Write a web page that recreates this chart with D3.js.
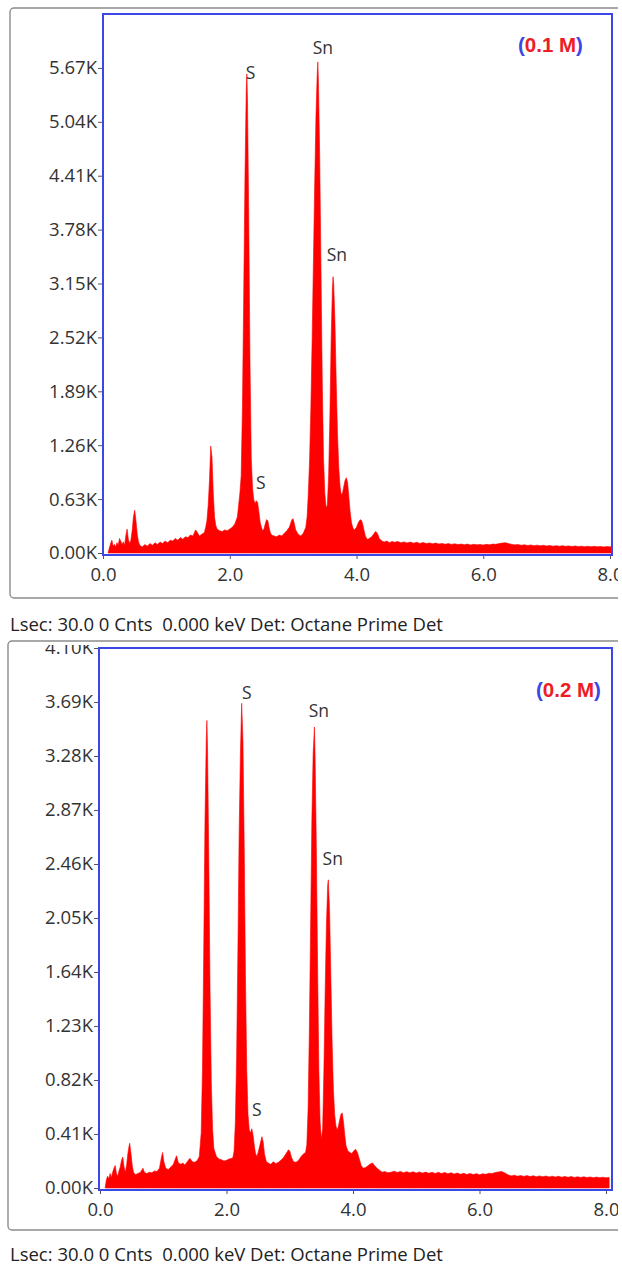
<!DOCTYPE html>
<html>
<head>
<meta charset="utf-8">
<script src="https://cdn.jsdelivr.net/npm/d3@7/dist/d3.min.js"></script>
<style>
  html, body { margin: 0; padding: 0; background: #fff; }
  svg { display: block; }
</style>
</head>
<body>
<svg id="chart" width="622" height="1264"></svg>
<script>
// EDS spectrum, 0.1 M sample: [energy keV, counts]
const spectrum01 = [
  [0.08,0],[0.10,60],[0.12,110],[0.14,150],[0.16,80],[0.18,100],[0.20,70],[0.22,120],[0.24,90],
  [0.26,170],[0.28,140],[0.30,100],[0.32,130],[0.34,90],[0.36,200],[0.38,280],[0.40,160],[0.42,110],
  [0.44,150],[0.46,260],[0.48,420],[0.50,500],[0.52,380],[0.54,220],[0.56,130],[0.58,90],[0.62,70],
  [0.66,100],[0.70,80],[0.74,110],[0.78,90],[0.82,120],[0.86,100],[0.90,130],[0.94,110],[0.98,140],
  [1.02,120],[1.06,150],[1.10,140],[1.14,170],[1.18,150],[1.22,180],[1.26,160],[1.30,190],[1.34,180],
  [1.38,210],[1.42,200],[1.46,270],[1.48,250],[1.52,200],[1.56,220],[1.60,240],[1.62,300],[1.64,380],
  [1.66,560],[1.68,850],[1.70,1250],[1.72,1120],[1.74,700],[1.76,420],[1.78,320],[1.80,280],[1.84,260],
  [1.88,250],[1.92,270],[1.96,260],[2.00,280],[2.04,300],[2.08,340],[2.12,420],[2.14,560],[2.16,700],
  [2.18,900],[2.20,1700],[2.22,3000],[2.24,4400],[2.26,5400],[2.27,5600],[2.28,5300],[2.30,3900],
  [2.32,2200],[2.34,1100],[2.36,750],[2.38,620],[2.40,580],[2.42,610],[2.44,590],[2.46,480],[2.48,360],
  [2.50,300],[2.52,260],[2.54,280],[2.56,340],[2.58,390],[2.60,380],[2.62,300],[2.64,240],[2.66,210],
  [2.70,200],[2.74,190],[2.78,210],[2.82,200],[2.86,230],[2.90,260],[2.94,300],[2.98,390],[3.00,400],
  [3.02,340],[3.04,270],[3.08,220],[3.12,200],[3.16,230],[3.20,300],[3.22,420],[3.24,700],[3.26,1100],
  [3.28,1700],[3.30,2500],[3.32,3400],[3.34,4300],[3.36,5100],[3.38,5600],[3.39,5740],[3.40,5500],
  [3.42,4600],[3.44,3300],[3.46,2000],[3.48,1100],[3.50,700],[3.52,530],[3.54,560],[3.56,900],
  [3.58,1600],[3.60,2500],[3.62,3100],[3.63,3230],[3.64,3150],[3.66,2700],[3.68,2000],[3.70,1400],
  [3.72,1000],[3.74,780],[3.76,680],[3.78,700],[3.80,780],[3.82,850],[3.84,880],[3.86,820],[3.88,650],
  [3.90,480],[3.92,360],[3.94,300],[3.96,270],[3.98,280],[4.00,300],[4.02,340],[4.04,370],[4.06,390],
  [4.08,380],[4.10,330],[4.12,260],[4.14,200],[4.16,170],[4.18,160],[4.20,170],[4.24,190],[4.28,230],
  [4.30,250],[4.32,240],[4.34,210],[4.36,170],[4.40,140],[4.44,130],[4.48,140],[4.52,120],[4.56,135],
  [4.60,125],[4.65,135],[4.70,120],[4.75,130],[4.80,118],[4.85,128],[4.90,115],[4.95,125],[5.00,112],
  [5.05,122],[5.10,110],[5.15,118],[5.20,108],[5.25,116],[5.30,105],[5.35,112],[5.40,102],[5.45,110],
  [5.50,100],[5.55,108],[5.60,98],[5.65,105],[5.70,96],[5.75,104],[5.80,94],[5.85,102],[5.90,95],
  [5.95,100],[6.00,93],[6.05,101],[6.10,96],[6.15,104],[6.20,102],[6.25,110],[6.30,116],[6.35,120],
  [6.40,110],[6.45,100],[6.50,95],[6.55,98],[6.60,90],[6.65,96],[6.70,88],[6.75,94],[6.80,86],
  [6.85,92],[6.90,84],[6.95,90],[7.00,82],[7.05,88],[7.10,80],[7.15,86],[7.20,79],[7.25,85],
  [7.30,78],[7.35,83],[7.40,76],[7.45,82],[7.50,75],[7.55,80],[7.60,74],[7.65,79],[7.70,73],
  [7.75,78],[7.80,72],[7.85,77],[7.90,71],[7.95,75],[8.00,72],[8.05,74]
];

// EDS spectrum, 0.2 M sample: [energy keV, counts]
const spectrum02 = [
  [0.08,0],[0.10,60],[0.12,90],[0.14,70],[0.16,110],[0.18,80],[0.20,120],[0.22,150],[0.24,170],
  [0.26,110],[0.28,90],[0.30,130],[0.32,160],[0.34,210],[0.36,235],[0.38,160],[0.40,120],[0.42,170],
  [0.44,260],[0.46,320],[0.47,340],[0.49,260],[0.51,170],[0.53,120],[0.56,100],[0.60,110],[0.64,120],
  [0.68,150],[0.70,120],[0.74,110],[0.78,120],[0.82,115],[0.86,130],[0.90,125],[0.94,150],[0.97,230],
  [0.99,270],[1.01,200],[1.04,150],[1.08,140],[1.12,160],[1.16,180],[1.19,220],[1.21,245],[1.24,190],
  [1.28,180],[1.31,190],[1.34,175],[1.38,200],[1.42,225],[1.46,200],[1.50,195],[1.54,210],[1.57,240],
  [1.60,420],[1.62,900],[1.64,1800],[1.66,2800],[1.68,3400],[1.69,3550],[1.70,3350],[1.72,2500],
  [1.74,1500],[1.76,800],[1.78,450],[1.80,300],[1.84,240],[1.88,220],[1.92,215],[1.96,205],[2.00,210],
  [2.04,220],[2.08,225],[2.10,230],[2.12,280],[2.14,500],[2.16,1000],[2.18,1800],[2.20,2700],
  [2.22,3300],[2.24,3680],[2.26,3400],[2.28,2600],[2.30,1600],[2.32,900],[2.34,560],[2.36,440],
  [2.38,420],[2.40,450],[2.42,400],[2.44,320],[2.46,260],[2.48,240],[2.50,270],[2.53,330],[2.56,390],
  [2.58,350],[2.60,260],[2.63,200],[2.66,190],[2.70,180],[2.74,200],[2.78,185],[2.82,195],[2.86,210],
  [2.90,230],[2.94,260],[2.98,290],[3.00,280],[3.03,230],[3.06,200],[3.10,195],[3.14,210],[3.18,240],
  [3.22,260],[3.25,270],[3.27,330],[3.29,600],[3.31,1200],[3.33,2000],[3.35,2800],[3.37,3300],
  [3.39,3500],[3.40,3300],[3.42,2600],[3.44,1700],[3.46,900],[3.48,500],[3.50,370],[3.52,450],
  [3.54,900],[3.56,1500],[3.58,2000],[3.60,2300],[3.61,2340],[3.63,2100],[3.65,1600],[3.67,1100],
  [3.69,750],[3.71,560],[3.73,470],[3.75,440],[3.77,470],[3.79,520],[3.81,560],[3.83,570],[3.85,500],
  [3.87,400],[3.89,320],[3.92,280],[3.95,270],[3.98,260],[4.01,280],[4.04,295],[4.07,270],[4.10,220],
  [4.13,170],[4.16,150],[4.20,155],[4.24,170],[4.28,185],[4.31,190],[4.34,170],[4.38,150],[4.42,135],
  [4.46,120],[4.50,125],[4.55,115],[4.60,120],[4.65,128],[4.70,118],[4.75,126],[4.80,116],[4.85,124],
  [4.90,115],[4.95,123],[5.00,114],[5.05,122],[5.10,113],[5.15,121],[5.20,112],[5.25,120],[5.30,111],
  [5.35,119],[5.40,110],[5.45,118],[5.50,108],[5.55,116],[5.60,106],[5.65,114],[5.70,104],[5.75,112],
  [5.80,103],[5.85,110],[5.90,102],[5.95,109],[6.00,100],[6.05,108],[6.10,104],[6.15,112],[6.20,110],
  [6.25,118],[6.30,122],[6.35,126],[6.40,114],[6.45,100],[6.50,92],[6.55,97],[6.60,89],[6.65,95],
  [6.70,88],[6.75,94],[6.80,87],[6.85,93],[6.90,86],[6.95,92],[7.00,85],[7.05,91],[7.10,84],
  [7.15,90],[7.20,83],[7.25,89],[7.30,82],[7.35,88],[7.40,81],[7.45,87],[7.50,80],[7.55,86],
  [7.60,80],[7.65,85],[7.70,79],[7.75,84],[7.80,78],[7.85,83],[7.90,78],[7.95,82],[8.00,77],[8.05,80]
];

// Axis ticks
const energyTicks = [0, 2, 4, 6, 8];
const countTicks01 = [0, 630, 1260, 1890, 2520, 3150, 3780, 4410, 5040, 5670];
const countTicks02 = [0, 410, 820, 1230, 1640, 2050, 2460, 2870, 3280, 3690, 4100];

// Peak annotations: [element, keV, counts]
const peaks01 = [["S", 2.33, 5620], ["Sn", 3.47, 5910], ["Sn", 3.69, 3490], ["S", 2.49, 830]];
const peaks02 = [["S", 2.32, 3765], ["Sn", 3.46, 3627], ["Sn", 3.68, 2502], ["S", 2.48, 600]];

const sampleLabels = ["0.1 M", "0.2 M"];
const statusLine = "Lsec: 30.0 0 Cnts  0.000 keV Det: Octane Prime Det";

const svg = d3.select("#chart");
const defs = svg.append("defs");
const FONT = "'Open Sans', 'Noto Sans', sans-serif";

const panels = [
  { data: spectrum01, ticks: countTicks01, yMax: 6300, peaks: peaks01, label: sampleLabels[0],
    frame: { x: 10, y: 8, b: 598 }, plot: { l: 103, r: 612, t: 14, b: 555, zero: 553, xEnd: 610 },
    legend: { x: 518, y: 44 }, status: 623 },
  { data: spectrum02, ticks: countTicks02, yMax: 4100, peaks: peaks02, label: sampleLabels[1],
    frame: { x: 8, y: 641, b: 1230 }, plot: { l: 99, r: 612, t: 648, b: 1190, zero: 1188, xEnd: 606, x0: 100 },
    legend: { x: 536, y: 689 }, status: 1253 }
];

panels.forEach((p, i) => {
  const pl = p.plot;
  const x = d3.scaleLinear().domain([0, 8]).range([pl.x0 || pl.l, pl.xEnd]);
  const y = d3.scaleLinear().domain([0, p.yMax]).range([pl.zero, pl.t]);

  // panel clip: below the frame's top edge, left of the page's right edge
  const clipId = "panel-clip-" + i;
  defs.append("clipPath").attr("id", clipId)
    .append("rect").attr("x", 0).attr("y", p.frame.y + 4).attr("width", 618).attr("height", p.frame.b - p.frame.y + 20);
  const edgeClipId = "edge-clip-" + i;
  defs.append("clipPath").attr("id", edgeClipId)
    .append("rect").attr("x", 0).attr("y", 0).attr("width", 618).attr("height", 1264);
  const plotClipId = "plot-clip-" + i;
  defs.append("clipPath").attr("id", plotClipId)
    .append("rect").attr("x", pl.l).attr("y", pl.t).attr("width", pl.r - pl.l).attr("height", pl.b - pl.t);

  const outer = svg.append("g").attr("clip-path", `url(#${edgeClipId})`);
  const g = svg.append("g").attr("clip-path", `url(#${clipId})`);

  // outer grey frame
  outer.append("rect")
    .attr("x", p.frame.x).attr("y", p.frame.y)
    .attr("width", 640).attr("height", p.frame.b - p.frame.y)
    .attr("rx", 4)
    .attr("fill", "none").attr("stroke", "#8c8c8c").attr("stroke-width", 1.4);

  // spectrum
  const area = d3.area()
    .x(d => x(d[0]))
    .y0(y(0))
    .y1(d => y(d[1]));
  g.append("g").attr("clip-path", `url(#${plotClipId})`)
    .append("path").datum(p.data)
    .attr("d", area)
    .attr("fill", "#ff0000")
    .attr("stroke", "#ff0000").attr("stroke-width", 0.6).attr("stroke-linejoin", "miter");

  // y axis
  const yAxis = d3.axisLeft(y).tickValues(p.ticks).tickSize(5).tickPadding(1)
    .tickFormat(v => (v / 1000).toFixed(2) + "K");
  const ya = g.append("g").attr("transform", `translate(${pl.l},0)`).call(yAxis);
  ya.select(".domain").remove();
  ya.selectAll(".tick line").attr("stroke", "#555");
  ya.selectAll(".tick text").attr("font-family", FONT).attr("font-size", 18.5).attr("fill", "#333");

  // x axis
  const xAxis = d3.axisBottom(x).tickValues(energyTicks).tickSize(4).tickPadding(9)
    .tickFormat(d3.format(".1f"));
  const xa = g.append("g").attr("transform", `translate(0,${pl.b})`).call(xAxis);
  xa.select(".domain").remove();
  xa.selectAll(".tick line").attr("stroke", "#555");
  xa.selectAll(".tick text").attr("font-family", FONT).attr("font-size", 18.5).attr("fill", "#333");

  // blue plot frame
  g.append("rect")
    .attr("x", pl.l).attr("y", pl.t)
    .attr("width", pl.r - pl.l).attr("height", pl.b - pl.t)
    .attr("fill", "none").attr("stroke", "#3b46e6").attr("stroke-width", 2);

  // peak labels
  g.selectAll("text.peak").data(p.peaks).join("text")
    .attr("class", "peak")
    .attr("x", d => x(d[1])).attr("y", d => y(d[2]))
    .attr("text-anchor", "middle").attr("dominant-baseline", "central")
    .attr("font-family", FONT).attr("font-size", 17.5).attr("fill", "#333")
    .text(d => d[0]);

  // sample concentration
  const lg = g.append("text")
    .attr("x", p.legend.x).attr("y", p.legend.y)
    .attr("dominant-baseline", "central")
    .attr("font-family", "'Liberation Sans', Arial, sans-serif")
    .attr("font-weight", "bold").attr("font-size", 20.5);
  lg.append("tspan").attr("fill", "#3b46e6").text("(");
  lg.append("tspan").attr("fill", "#ee1c25").text(p.label);
  lg.append("tspan").attr("fill", "#3b46e6").text(")");

  // acquisition status line
  svg.append("text")
    .attr("x", 10).attr("y", p.status)
    .attr("dominant-baseline", "central")
    .attr("font-family", FONT).attr("font-size", 18.5).attr("fill", "#222")
    .attr("xml:space", "preserve")
    .style("white-space", "pre")
    .text(statusLine);
});
</script>
</body>
</html>
